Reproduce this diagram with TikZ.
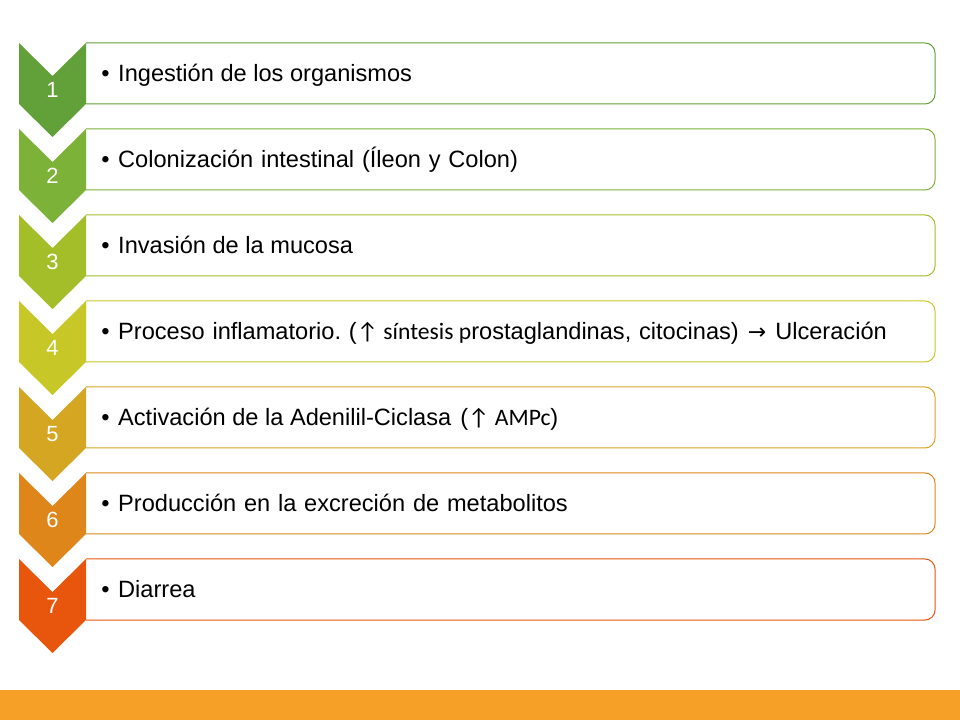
\documentclass[tikz,border=0pt]{standalone}
\usepackage{fontspec}
\setmainfont{Liberation Sans}
\newfontfamily\calfont{Carlito}
\newfontfamily\symfont{DejaVu Sans}
\newcommand\wsp{\hspace{7.8pt}}
\definecolor{cA}{HTML}{62A03A}
\definecolor{cB}{HTML}{7CB238}
\definecolor{cC}{HTML}{A4BE2A}
\definecolor{cD}{HTML}{C8C728}
\definecolor{cE}{HTML}{D4A622}
\definecolor{cF}{HTML}{DE861A}
\definecolor{cG}{HTML}{E8560E}
\definecolor{barorange}{HTML}{F7A028}
\tikzset{
  numlabel/.style={text=white,font=\fontsize{22}{26}\selectfont,inner sep=0pt},
  itemtext/.style={anchor=base west,inner sep=0pt,font=\fontsize{23.6}{28}\selectfont,text=black},
  bullettext/.style={anchor=base,inner sep=0pt,font=\fontsize{23.6}{28}\selectfont,text=black}
}
\begin{document}
\begin{tikzpicture}[x=1pt,y=1pt]
\useasboundingbox (0,0) rectangle (960,720);
\fill[white] (0,0) rectangle (960,720);
\fill[barorange] (0,0) rectangle (960,30);
\foreach \i/\c/\txt in {
  0/cA/{Ingestión de los organismos},
  1/cB/{Colonización\wsp intestinal\wsp (Íleon\wsp y\wsp Colon)},
  2/cC/{Invasión de la mucosa},
  3/cD/{Proceso\wsp inflamatorio.\wsp ({\calfont ↑ síntesis p}rostaglandinas,\wsp citocinas)\hspace{9pt}{\symfont\fontsize{22}{24}\selectfont →}\hspace{9pt}Ulceración},
  4/cE/{Activación de la Adenilil-Ciclasa\hspace{9pt}({\calfont ↑ AMPc})},
  5/cF/{Producción\wsp en\wsp la\wsp excreción\wsp de\wsp metabolitos},
  6/cG/{Diarrea}} {
  \pgfmathsetmacro{\top}{720-43-86*\i}
  % rectangle with rounded right corners
  \draw[\c, line width=1pt]
    (86,\top) -- (925,\top) arc[start angle=90,end angle=0,radius=10]
    -- (935,\top-51) arc[start angle=0,end angle=-90,radius=10]
    -- (86,\top-61);
  % chevron
  \fill[\c] (19,\top) -- (52.5,\top-33) -- (86,\top) -- (86,\top-61)
    -- (52.5,\top-94) -- (19,\top-61) -- cycle;
  \pgfmathtruncatemacro{\n}{\i+1}
  \node[numlabel] (n\n) at (52.5,\top-47) {\n};
  \node[bullettext] (b\n) at (105.5,\top-38.7) {•};
  \node[itemtext] (t\n) at (118,\top-38.7) {\txt};
}
\end{tikzpicture}
\end{document}
